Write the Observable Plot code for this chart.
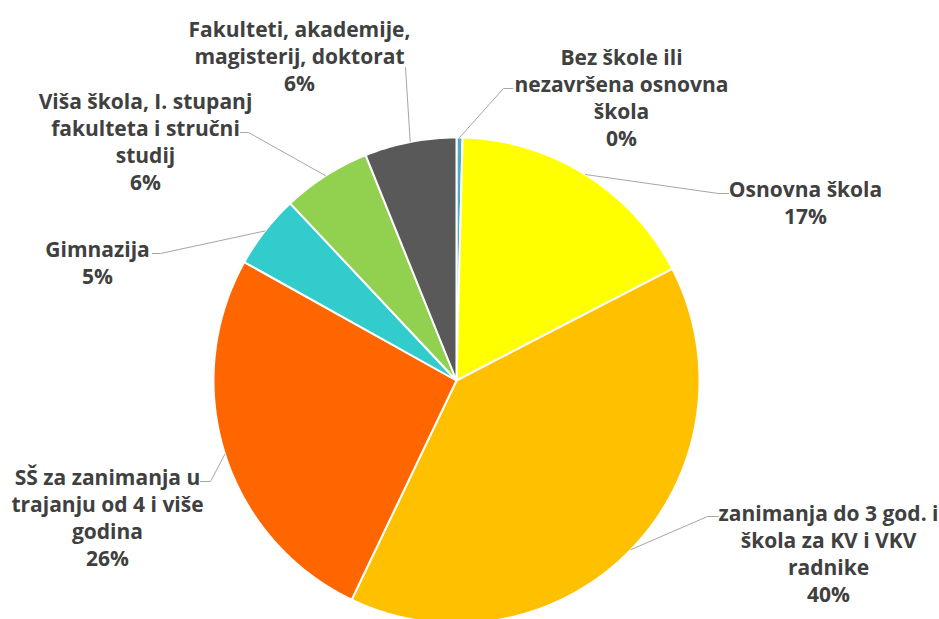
<!DOCTYPE html>
<html><head><meta charset="utf-8">
<script src="https://cdn.jsdelivr.net/npm/d3@7"></script>
<script src="https://cdn.jsdelivr.net/npm/@observablehq/plot@0.6"></script>
<style>html,body{margin:0;padding:0;background:#fff;overflow:hidden;}</style>
</head><body><div id="chart"></div>
<script>
// ---- data (clockwise from 12 o'clock) ----
const categories = [
  "Bez škole ili\nnezavršena osnovna\nškola",
  "Osnovna škola",
  "zanimanja do 3 god. i\nškola za KV i VKV\nradnike",
  "SŠ za zanimanja u\ntrajanju od 4 i više\ngodina",
  "Gimnazija",
  "Viša škola, I. stupanj\nfakulteta i stručni\nstudij",
  "Fakulteti, akademije,\nmagisterij, doktorat"
];
const values = [0.4, 17.0, 39.7, 26.0, 4.9, 5.9, 6.1];
const colors = ["#4BACC6", "#FFFF00", "#FFC000", "#FF6600", "#33CCCC", "#92D050", "#595959"];

// ---- layout (pixels) ----
const W = 939, H = 619, CX = 456, CY = 380, R = 243;
const X = px => (px - CX) / R;
const Y = py => (CY - py) / R;
// label block centres and leader elbow / end points
const labelCenter = [[621, 96], [805, 201], [828, 552], [107, 516], [97, 261], [145, 140], [299, 55]];
const leaderElbow = [[503, 88], [718, 193], [707, 516], [210, 481], [160, 253], [248, 132], [405, 67]];
const leaderEnd   = [[512, 88], [728, 193], [718, 516], [200, 481], [152, 253], [240, 132], [405, 67]];

const total = d3.sum(values);
let cum = 0;
const slices = values.map((v, i) => {
  const a0 = cum / total * 2 * Math.PI;
  cum += v;
  const a1 = cum / total * 2 * Math.PI;
  return {i, cat: categories[i], v, a0, a1, mid: (a0 + a1) / 2, color: colors[i]};
});

const marks = [];
for (const s of slices) {
  const n = Math.max(2, Math.ceil((s.a1 - s.a0) / 0.01));
  const pts = [{x: 0, y: 0}];
  for (let k = 0; k <= n; k++) {
    const a = s.a0 + (s.a1 - s.a0) * k / n;
    pts.push({x: Math.sin(a), y: Math.cos(a)});
  }
  marks.push(Plot.line(pts, {x: "x", y: "y", curve: "linear-closed", fill: s.color, stroke: "white", strokeWidth: 2, strokeLinejoin: "round"}));
}

// leader lines
const leaders = [];
slices.forEach(s => {
  leaders.push({i: s.i, k: 0, x: Math.sin(s.mid), y: Math.cos(s.mid)});
  leaders.push({i: s.i, k: 1, x: X(leaderElbow[s.i][0]), y: Y(leaderElbow[s.i][1])});
  leaders.push({i: s.i, k: 2, x: X(leaderEnd[s.i][0]), y: Y(leaderEnd[s.i][1])});
});
marks.push(Plot.line(leaders, {x: "x", y: "y", z: "i", stroke: "#A6A6A6", strokeWidth: 1}));

const labels = slices.map(s => ({
  x: X(labelCenter[s.i][0]),
  y: Y(labelCenter[s.i][1]),
  text: `${s.cat}\n${Math.round(s.v)}%`
}));
marks.push(Plot.text(labels, {
  x: "x", y: "y", text: "text", fontSize: 21, fontWeight: "bold", fill: "#404040",
  lineHeight: 1.29, textAnchor: "middle", fontFamily: "Open Sans", letterSpacing: "-0.7px"
}));

const chart = Plot.plot({
  width: W, height: H,
  margin: 0,
  x: {domain: [X(0), X(W)], axis: null},
  y: {domain: [Y(H), Y(0)], axis: null},
  style: {background: "white", overflow: "hidden"},
  marks
});
document.getElementById("chart").append(chart);
</script>
</body></html>
